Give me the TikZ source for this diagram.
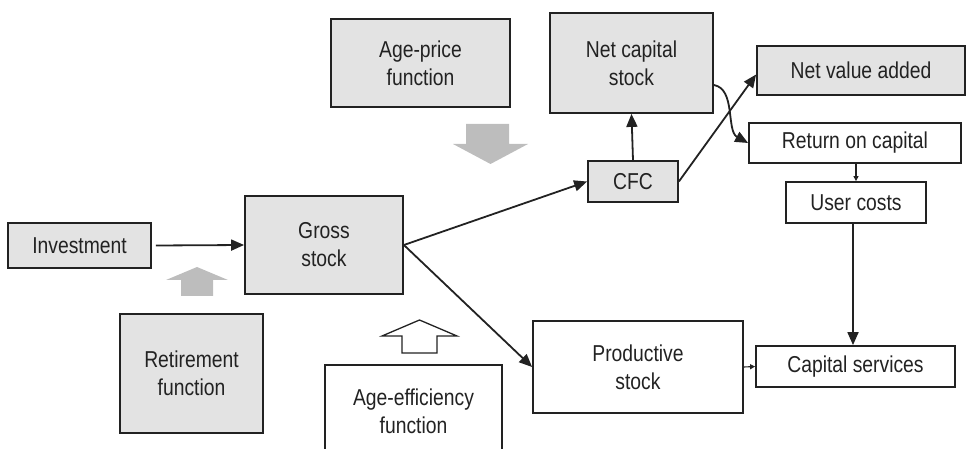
\documentclass[tikz,border=0pt]{standalone}
\usepackage{fontspec}
\setmainfont{Liberation Sans}[FakeStretch=0.84]
\usepackage{xcolor}
\usepackage{tikz}
\usetikzlibrary{arrows.meta}
\usetikzlibrary{positioning}
\definecolor{boxgray}{HTML}{E3E3E3}
\definecolor{arrowgray}{HTML}{BDBDBD}
\definecolor{inkgray}{HTML}{222222}
\tikzset{
    box/.style = {rectangle, draw=inkgray, line width=1.8pt, align=center, inner sep=0pt, text=inkgray, font=\fontsize{23}{28}\selectfont},
    graybox/.style = {box, fill=boxgray},
    flow/.style = {draw=inkgray, line width=1.8pt, -{Triangle[length=13pt,width=11pt]}},
    tinyflow/.style = {draw=inkgray, line width=1.1pt, -{Triangle[length=5pt,width=5pt]}},
}
\begin{document}
\begin{tikzpicture}[x=1pt, y=-1pt]
  \useasboundingbox (0,0) rectangle (967,449);
  % left part
  \node[graybox, minimum width=143pt, minimum height=45pt] (inv) at (79.5,245.5) {Investment};
  \node[graybox, minimum width=158pt, minimum height=98pt] (gross) at (324,245) {Gross\\stock};
  \node[graybox, minimum width=143pt, minimum height=119pt] (retire) at (191.5,373.5) {Retirement\\function};
  \node[box, minimum width=177pt, minimum height=92pt] (ageeff) at (413.5,411) {Age-efficiency\\function};
  \node[graybox, minimum width=179pt, minimum height=88pt] (ageprice) at (420.5,63) {Age-price\\function};
  % middle and right part
  \node[graybox, minimum width=90pt, minimum height=41pt] (cfc) at (633,181.5) {CFC};
  \node[graybox, minimum width=163pt, minimum height=100pt] (netcap) at (631.5,63) {Net capital\\stock};
  \node[graybox, minimum width=208pt, minimum height=49pt] (nva) at (861,70.5) {Net value added};
  \node[box, minimum width=212pt, minimum height=40pt] (roc) at (855,143) {Return on capital};
  \node[box, minimum width=140pt, minimum height=41pt] (user) at (856,202.5) {User costs};
  \node[box, minimum width=210pt, minimum height=92pt] (prod) at (638,367) {Productive\\stock};
  \node[box, minimum width=199pt, minimum height=41pt] (capserv) at (855.5,366.5) {Capital services};

  % block arrows
  \fill[arrowgray] (181,296) -- (181,280) -- (166,280) -- (197,267) -- (228,280) -- (213,280) -- (213,296) -- cycle;
  \fill[arrowgray] (466,124) -- (466,144) -- (453,144) -- (490.5,164) -- (528,144) -- (509,144) -- (509,124) -- cycle;
  \draw[inkgray, line width=1.3pt] (402,353) -- (402,336) -- (382,336) -- (419.5,320) -- (457,336) -- (437,336) -- (437,353) -- cycle;

  % connectors
  \draw[flow] ([xshift=4pt]inv.east) -- (gross.west);
  \draw[flow] (gross.east) -- (cfc.west);
  \draw[flow] (gross.east) -- (prod.west);
  \draw[flow] (cfc.north) -- (netcap.south);
  \draw[flow] (cfc.east) -- ([yshift=-4pt]nva.west);
  \draw[flow] ([yshift=-22pt]netcap.east) .. controls +(22,4) and +(-22,-12) .. (roc.west);
  \draw[tinyflow] (roc.south -| user.north) -- (user.north);
  \draw[flow] ([xshift=-3pt]user.south) -- ([xshift=-3pt]user.south |- capserv.north);
  \draw[tinyflow] (prod.east) -- (capserv.west);
\end{tikzpicture}
\end{document}
